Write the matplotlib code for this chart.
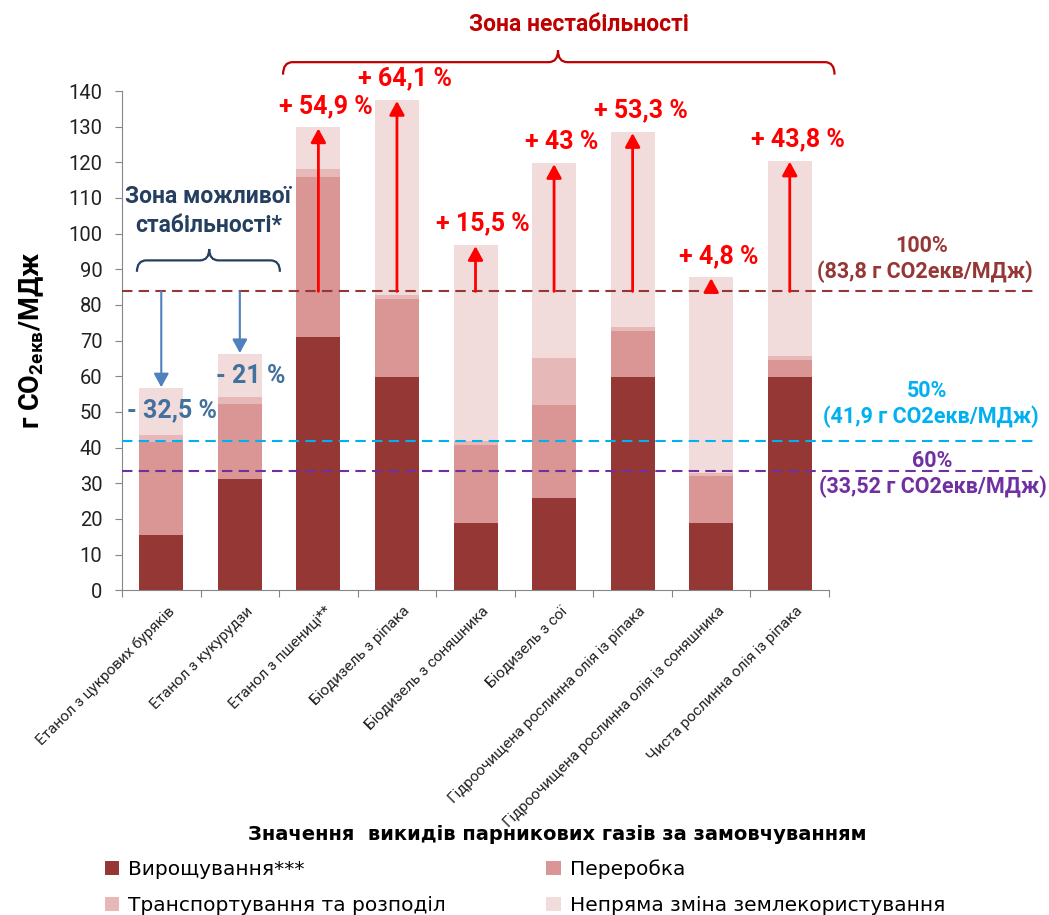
import matplotlib
matplotlib.use("Agg")
import matplotlib.pyplot as plt
from matplotlib.path import Path
from matplotlib.patches import PathPatch, Patch
from matplotlib.transforms import ScaledTranslation

plt.rcParams['font.family'] = ['Roboto', 'DejaVu Sans']
plt.rcParams['mathtext.fontset'] = 'custom'
plt.rcParams['mathtext.rm'] = 'Roboto'
plt.rcParams['mathtext.bf'] = 'Roboto:bold'

# ---- data (г CO2екв/МДж) ----
categories = ["Етанол з цукрових буряків", "Етанол з кукурудзи", "Етанол з пшениці**",
              "Біодизель з ріпака", "Біодизель з соняшника", "Біодизель з сої",
              "Гідроочищена рослинна олія із ріпака",
              "Гідроочищена рослинна олія із соняшника",
              "Чиста рослинна олія із ріпака"]
cultivation = [15.5, 31.2, 71.0, 59.7, 18.9, 25.8, 59.7, 18.9, 59.7]
processing = [26.2, 21.1, 45.0, 21.9, 21.9, 26.2, 13.0, 13.0, 4.8]
transport = [1.9, 1.9, 2.0, 1.1, 1.1, 13.0, 1.1, 1.0, 1.2]
iluc = [13.0, 12.0, 11.8, 54.8, 54.9, 54.8, 54.7, 54.9, 54.8]
change_labels = ["- 32,5 %", "- 21 %", "+ 54,9 %", "+ 64,1 %", "+ 15,5 %",
                 "+ 43 %", "+ 53,3 %", "+ 4,8 %", "+ 43,8 %"]
series_names = ["Вирощування***", "Переробка", "Транспортування та розподіл",
                "Непряма зміна землекористування"]
series_colors = ["#953735", "#D99694", "#E6B9B8", "#F2DCDB"]
threshold_values = [83.8, 41.9, 33.52]
threshold_pct = ["100%", "50%", "60%"]
threshold_colors = ["#953735", "#00B0F0", "#7030A0"]

fig = plt.figure(figsize=(10.49, 9.15), dpi=100)
ax = fig.add_axes([0.1163, 0.355, 0.674, 0.5455])

x = list(range(len(categories)))
series = [cultivation, processing, transport, iluc]
bottom = [0.0] * len(x)
for vals, col in zip(series, series_colors):
    ax.bar(x, vals, width=0.56, bottom=bottom, color=col, linewidth=0, zorder=2)
    bottom = [b + v for b, v in zip(bottom, vals)]
totals = bottom

ax.set_xlim(-0.5, len(x) - 0.5)
ax.set_ylim(0, 140)
ax.set_yticks(range(0, 141, 10))
ax.tick_params(axis='y', labelsize=14.5, length=5, pad=9, color='#868686',
               labelcolor='#222222')
for s in ['top', 'right']:
    ax.spines[s].set_visible(False)
for s in ['left', 'bottom']:
    ax.spines[s].set_color('#868686')

# category boundaries get the tick marks, centres carry the labels
ax.set_xticks([i - 0.5 for i in range(len(x) + 1)])
ax.set_xticklabels([])
ax.tick_params(axis='x', which='major', length=5, color='#868686')
ax.set_xticks(x, minor=True)
ax.set_xticklabels(categories, minor=True, rotation=45, ha='right',
                   rotation_mode='anchor', fontsize=11, color='#222222')
ax.tick_params(axis='x', which='minor', length=0, pad=10)
for lab in ax.get_xticklabels(minor=True):
    lab.set_transform(lab.get_transform() + ScaledTranslation(0.06, 0, fig.dpi_scale_trans))

ax.set_ylabel(r"г CO$_{\mathbf{2екв}}$/МДж", fontsize=19.5, fontweight='bold')
ax.yaxis.set_label_coords(-0.108, 0.5)

# reference levels
ref = threshold_values[0]
for val, col in zip(threshold_values, threshold_colors):
    ax.plot([-0.5, 11.13], [val, val], color=col, lw=1.5, ls=(0, (5, 3)),
            clip_on=False, zorder=4)
label_pos = [(9.68, 96.5, 9.72, 89.2), (9.75, 56.0, 9.79, 48.7), (9.81, 36.3, 9.82, 29.0)]
for val, pct, col, (x1, y1, x2, y2) in zip(threshold_values, threshold_pct,
                                          threshold_colors, label_pos):
    num = f"{val:g}".replace('.', ',')
    ax.text(x1, y1, pct, color=col, fontsize=15.5, fontweight='bold',
            ha='center', va='center', clip_on=False)
    ax.text(x2, y2, f"({num} г CO2екв/МДж)", color=col, fontsize=15.5,
            fontweight='bold', ha='center', va='center', clip_on=False)

# change arrows and percentage labels
blue = '#4F81BD'
for i, (tot, lab) in enumerate(zip(totals, change_labels)):
    if tot > ref:
        ax.annotate('', xy=(i, tot - 0.3), xytext=(i, ref),
                    arrowprops=dict(arrowstyle='-|>,head_length=0.55,head_width=0.3',
                                    color='#FF0000', lw=2, mutation_scale=15,
                                    shrinkA=0, shrinkB=0), zorder=5)
        ax.text(i + 0.1, tot + 6, lab, color='#FF0000', fontsize=18,
                fontweight='bold', ha='center', va='center', clip_on=False)
    else:
        ax.annotate('', xy=(i, tot + 0.3), xytext=(i, ref),
                    arrowprops=dict(arrowstyle='-|>,head_length=0.55,head_width=0.3',
                                    color=blue, lw=1.5, mutation_scale=15,
                                    shrinkA=0, shrinkB=0), zorder=5)
        ax.text(i + 0.14, tot - 6, lab, color='#41719C', fontsize=18,
                fontweight='bold', ha='center', va='center', zorder=6)


def brace(x0, x1, xm, y, depth, tip, color):
    r = 0.12
    verts = [(x0, y - depth), (x0, y), (x0 + r, y),
             (xm - r, y), (xm, y), (xm, y + tip),
             (xm, y), (xm + r, y),
             (x1 - r, y), (x1, y), (x1, y - depth)]
    codes = [Path.MOVETO, Path.CURVE3, Path.CURVE3,
             Path.LINETO, Path.CURVE3, Path.CURVE3,
             Path.CURVE3, Path.CURVE3,
             Path.LINETO, Path.CURVE3, Path.CURVE3]
    ax.add_patch(PathPatch(Path(verts, codes), fill=False, edgecolor=color,
                           lw=1.6, clip_on=False, zorder=6))


navy = '#243F60'
brace(-0.31, 1.51, 0.61, 92.5, 3.2, 3.2, navy)
ax.text(0.60, 106.3, "Зона можливої\nстабільності*", color=navy, fontsize=16.5,
        fontweight='bold', ha='center', va='center', linespacing=1.3)

dark_red = '#C00000'
brace(1.55, 8.57, 5.05, 148.1, 3.5, 3.3, dark_red)
ax.text(5.32, 158.6, "Зона нестабільності", color=dark_red, fontsize=16.5,
        fontweight='bold', ha='center', va='center', clip_on=False)

# legend
fig.text(0.5315, 1 - 834 / 915, "Значення  викидів парникових газів за замовчуванням",
         fontsize=14, fontweight='bold', ha='center', va='center', family='DejaVu Sans')
order = [0, 2, 1, 3]
handles = [Patch(facecolor=series_colors[k], edgecolor='none') for k in order]
labels = [series_names[k] for k in order]
fig.legend(handles, labels, ncol=2, loc='upper left', bbox_to_anchor=(0.1001, 1 - 859 / 915),
           frameon=False, prop={'family': 'DejaVu Sans', 'size': 14.5},
           handlelength=0.7, handleheight=0.7, borderpad=0, borderaxespad=0,
           handletextpad=0.45, columnspacing=5.0, labelspacing=0.85)

fig.savefig("out.png", dpi=100)
